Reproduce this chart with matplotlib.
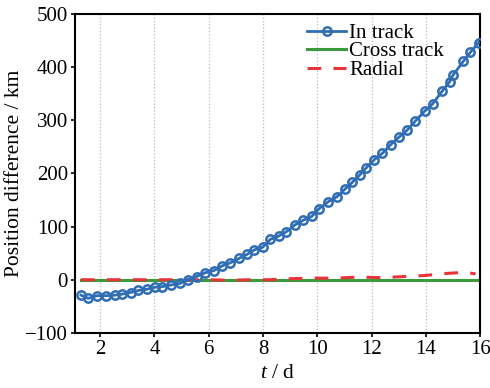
import matplotlib

matplotlib.use("Agg")

import matplotlib.pyplot as plt

# sample times (days) and position differences (km)
t_in = [1.29, 1.56, 1.88, 2.21, 2.53, 2.81, 3.12, 3.41, 3.71, 4.02, 4.28, 4.59,
        4.93, 5.24, 5.55, 5.86, 6.18, 6.49, 6.80, 7.11, 7.42, 7.67, 7.98, 8.27,
        8.57, 8.85, 9.17, 9.48, 9.79, 10.07, 10.41, 10.72, 11.01, 11.28, 11.56,
        11.81, 12.10, 12.40, 12.70, 13.00, 13.30, 13.60, 13.95, 14.25, 14.60,
        14.87, 15.00, 15.38, 15.64, 15.94]
in_track = [-29, -35, -30, -30, -29, -27, -24, -20, -18, -14, -13, -10,
            -7, 0, 6, 13, 17, 26, 32, 40, 48, 56, 61, 76,
            82, 90, 103, 112, 119, 134, 147, 156, 170, 183, 197,
            211, 226, 238, 254, 268, 281, 298, 317, 331, 355,
            372, 385, 411, 428, 446]

t_cross = [1.29, 15.94]
cross_track = [0, 0]

t_rad = [1.29, 2.5, 4.0, 5.0, 6.0, 6.8, 7.5, 8.2, 9.0, 9.85, 10.7, 11.46,
         12.35, 13.2, 13.96, 14.8, 15.45, 15.83]
radial = [0, 0, 0, 0, 0, -1, 0, 0, 2, 3, 3, 5,
          4, 6, 8, 12, 14, 11]

plt.rcParams["font.family"] = "Liberation Serif"
plt.rcParams["mathtext.fontset"] = "custom"
plt.rcParams["mathtext.it"] = "Liberation Serif:italic"
plt.rcParams["mathtext.rm"] = "Liberation Serif"

fig = plt.figure(figsize=(4.9, 3.88), dpi=100)
ax = fig.add_axes([0.153, 0.142, 0.827, 0.822])

blue = "#2f6db5"
green = "#3a9a3c"
red = "#e8333b"

ax.plot(t_in, in_track, color=blue, lw=2, marker="o", markersize=6,
        markerfacecolor="none", markeredgewidth=1.8, label="In track", zorder=4)
ax.plot(t_cross, cross_track, color=green, lw=2.2, label="Cross track", zorder=2)
ax.plot(t_rad, radial, color=red, lw=2.2, ls=(0, (4.5, 4)), label="Radial", zorder=3)

ax.set_xlim(1.07, 16)
ax.set_ylim(-100, 500)
ax.set_xticks([2, 4, 6, 8, 10, 12, 14, 16])
ax.set_yticks([-100, 0, 100, 200, 300, 400, 500])
ax.set_yticklabels(["\u2212100", "0", "100", "200", "300", "400", "500"])
ax.grid(axis="x", color="#bbbbbb", ls=":", lw=0.9)
ax.tick_params(labelsize=15, direction="out", length=3, width=1.2, pad=2)
for s in ax.spines.values():
    s.set_linewidth(1.5)

ax.set_xlabel("$t$ / d", fontsize=15.5, labelpad=4)
ax.set_ylabel("Position difference / km", fontsize=15.5, labelpad=1)

ax.legend(loc="upper right", bbox_to_anchor=(0.942, 1.01), frameon=False,
          fontsize=15, labelspacing=-0.05, handlelength=1.9, handletextpad=0.15,
          borderpad=0.1)

fig.savefig("out.png", dpi=100)
